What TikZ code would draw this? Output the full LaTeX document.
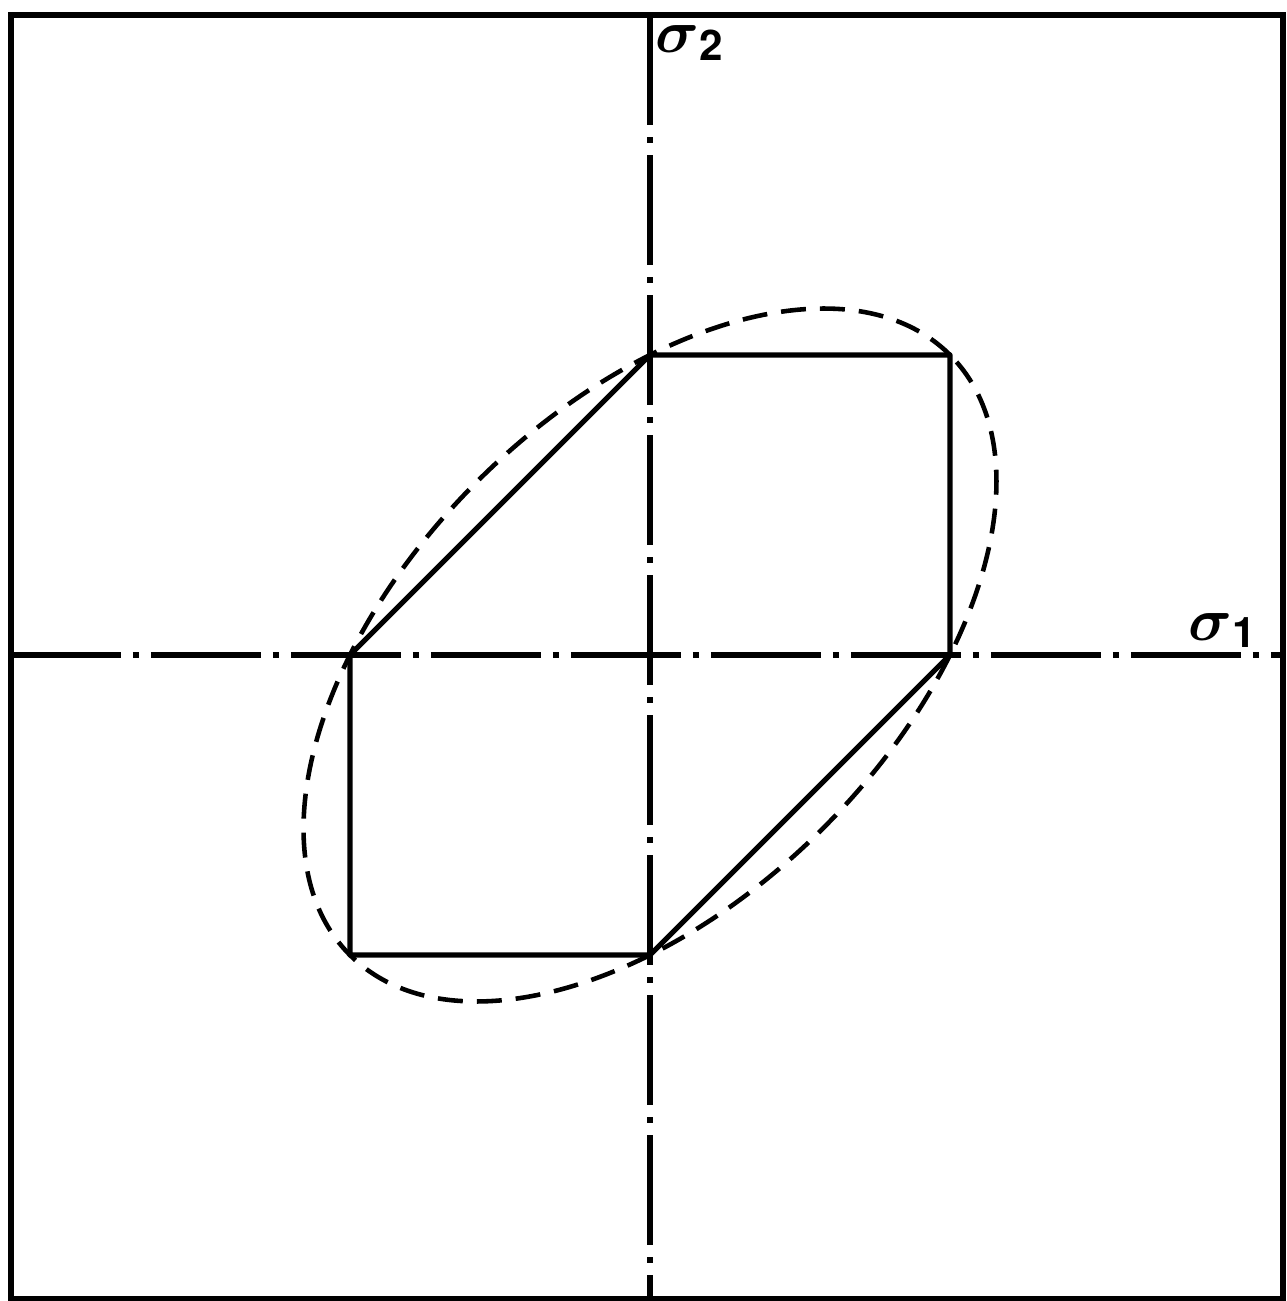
\documentclass[tikz,border=0pt]{standalone}
\usepackage{amsmath}
\usepackage{fontspec}
\setsansfont{TeX Gyre Heros}
\usetikzlibrary{calc}

\newcommand{\sig}[1]{{\LARGE$\boldsymbol{\sigma}$}{\large\sffamily\bfseries\raisebox{-0.35ex}{#1}}}

\begin{document}
\begin{tikzpicture}[x=3cm,y=3cm,
    cornice/.style={line width=1.7pt},
    asse/.style={line width=1.5pt, dash pattern=on 1.1cm off 0.12cm on 0.06cm off 0.12cm},
    tresca/.style={line width=1.5pt, line join=round},
    mises/.style={line width=1.3pt, dash pattern=on 0.25cm off 0.14cm}]
\useasboundingbox (-6.5cm,-6.46cm) rectangle (6.37cm,6.55cm);
    % cornice
        \coordinate (sw) at (-2.13,-2.147);
        \coordinate (ne) at (2.11,2.133);
        \draw[cornice] (sw) rectangle (ne);
    % assi
        \coordinate (O) at (0,0);
        \coordinate (xl) at (-2.13,0);
        \coordinate (xr) at (2.11,0);
        \coordinate (yt) at (0,2.133);
        \coordinate (yb) at (0,-2.147);
        \draw[asse] (xl) -- (xr);
        \draw[asse] (yt) -- (yb);
        \node[anchor=north west, inner sep=0pt] (s2) at (0.017,2.1) {\sig{2}};
        \node[anchor=base east, inner sep=0pt] (s1) at (2.023,0.05) {\sig{1}};
    % esagono di Tresca
        \coordinate (A) at (0,1);
        \coordinate (B) at (1,1);
        \coordinate (C) at (1,0);
        \coordinate (D) at (0,-1);
        \coordinate (E) at (-1,-1);
        \coordinate (F) at (-1,0);
        \draw[tresca] (A) -- (B) -- (C) -- (D) -- (E) -- (F) -- cycle;
    % ellisse di von Mises
        \draw[mises, rotate=45] (O) ellipse [x radius=4.243cm, y radius=2.449cm];
\end{tikzpicture}
\end{document}
